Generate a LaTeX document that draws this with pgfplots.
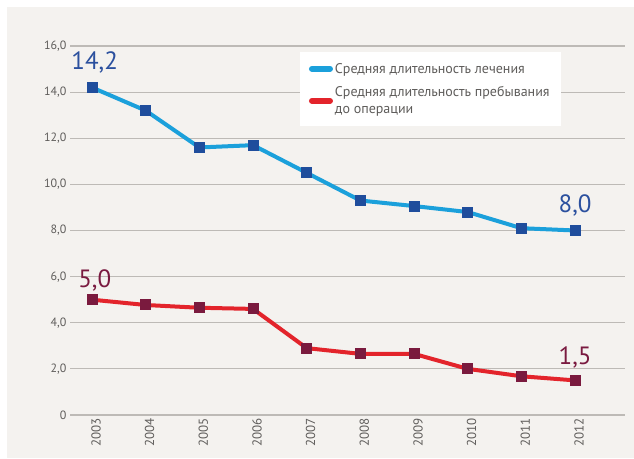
\documentclass[border=0pt]{standalone}
\usepackage{pgfplots}
\pgfplotsset{compat=1.18}
\usepackage{fontspec}
\setmainfont{PT Sans}
\definecolor{bg}{HTML}{F4F2EF}
\definecolor{gridc}{HTML}{BDBAB6}
\definecolor{lblue}{HTML}{1BA0DB}
\definecolor{dblue}{HTML}{1F4D9C}
\definecolor{lred}{HTML}{E3242B}
\definecolor{dred}{HTML}{7A1A3E}
\definecolor{txt}{HTML}{5F5D5B}
\definecolor{vblue}{HTML}{2B509E}
\definecolor{vred}{HTML}{7A1A40}
\begin{document}
\begin{tikzpicture}
\useasboundingbox (0pt,0pt) rectangle (634pt,458pt);
\fill[white] (0pt,0pt) rectangle (634pt,458pt);
\fill[bg] (7pt,0pt) rectangle (634pt,451pt);
\begin{axis}[
  at={(70pt,43pt)}, anchor=south west,
  width=555pt, height=369pt, scale only axis,
  xmin=2002.59, xmax=2012.93,
  ymin=0, ymax=16,
  axis line style={draw=none},
  major tick length=0pt,
  ymajorgrids, grid style={gridc, line width=1.1pt},
  ytick={0,2,4,6,8,10,12,14,16},
  yticklabels={0,{2,0},{4,0},{6,0},{8,0},{10,0},{12,0},{14,0},{16,0}},
  xtick={2003,...,2012},
  xticklabels={2003,2004,2005,2006,2007,2008,2009,2010,2011,2012},
  x tick label style={rotate=90, anchor=east, yshift=-4pt, font=\fontsize{13}{15}\selectfont, text=txt},
  y tick label style={font=\fontsize{12}{14}\selectfont, text=txt},
  /pgf/number format/assume math mode=true,
  legend style={at={(0.414,0.984)}, anchor=north west, draw=none, fill=white,
    font=\fontsize{14}{17}\selectfont, text=txt, inner xsep=9pt, inner ysep=9pt,
    row sep=8pt, cells={anchor=west, align=left}},
  legend cell align=left,
  legend image code/.code={\draw[line width=6pt, line cap=round, #1] (0pt,0pt) -- (18pt,0pt);},
]
\addplot[lblue, line width=4pt, mark=square*, mark size=5pt,
  mark options={fill=dblue, draw=dblue, line width=0pt}] coordinates {
(2003,14.2) (2004,13.2) (2005,11.6) (2006,11.7) (2007,10.5)
(2008,9.3) (2009,9.06) (2010,8.8) (2011,8.1) (2012,8.0)};
\addlegendentry{Средняя длительность лечения}
\addplot[lred, line width=4pt, mark=square*, mark size=5pt,
  mark options={fill=dred, draw=dred, line width=0pt}] coordinates {
(2003,5.0) (2004,4.77) (2005,4.65) (2006,4.6) (2007,2.9)
(2008,2.65) (2009,2.65) (2010,2.0) (2011,1.68) (2012,1.5)};
\addlegendentry{Средняя длительность пребывания\\до операции}
\node[text=vblue, font=\fontsize{25}{28}\selectfont] at (axis cs:2003.05,15.3) {14,2};
\node[text=vblue, font=\fontsize{25}{28}\selectfont] at (axis cs:2012,9.1) {8,0};
\node[text=vred, font=\fontsize{25}{28}\selectfont] at (axis cs:2003.05,5.85) {5,0};
\node[text=vred, font=\fontsize{25}{28}\selectfont] at (axis cs:2012,2.5) {1,5};
\end{axis}
\end{tikzpicture}
\end{document}
